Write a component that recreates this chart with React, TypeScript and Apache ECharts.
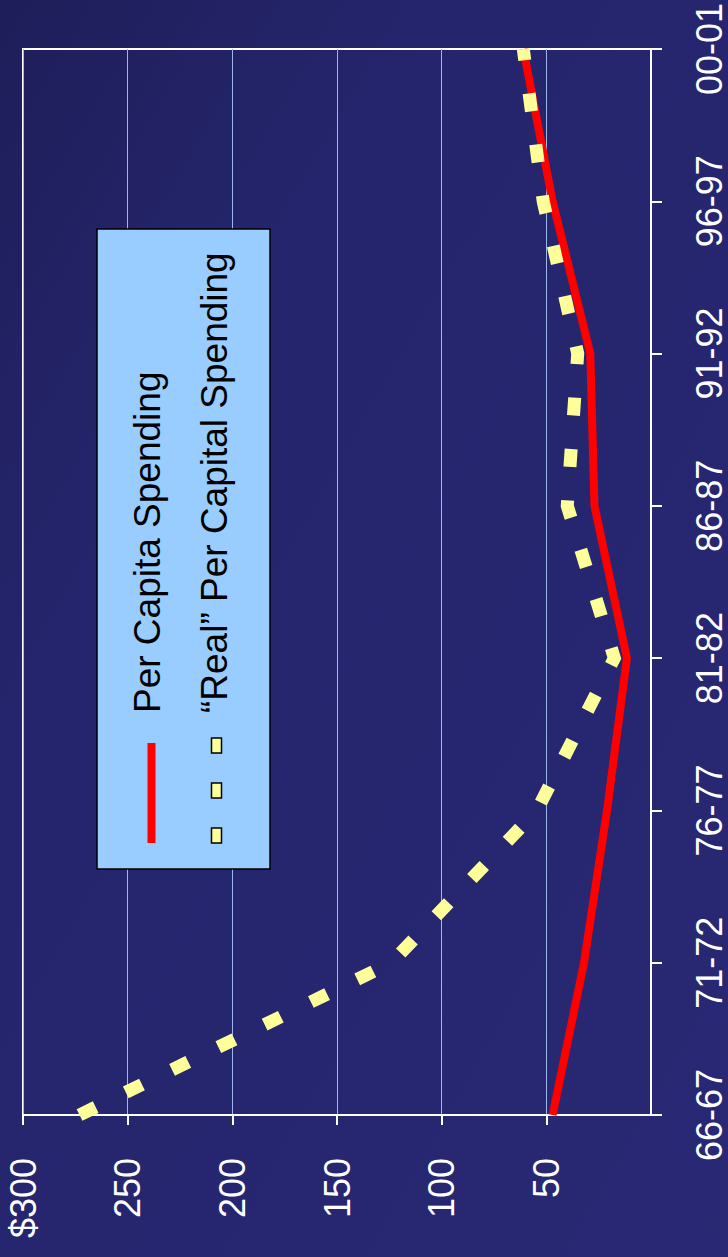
import { useEffect, useRef } from 'react';
import * as echarts from 'echarts';

const categories = ['66-67', '71-72', '76-77', '81-82', '86-87', '91-92', '96-97', '00-01'];
const perCapita = [47, 32, 21, 11.5, 27, 29, 47, 61];
const realPerCapita = [273, 124, 54.5, 17.5, 40, 35, 51.5, 61];
const valueTicks = [50, 100, 150, 200, 250, 300];
const valueTickLabels = ['50', '100', '150', '200', '250', '$300'];
const legendNames = ['Per Capita Spending', '\u201CReal\u201D Per Capital Spending'];

const FONT = 'Arial, "Liberation Sans", Helvetica, sans-serif';

export default function App() {
  const ref = useRef<HTMLDivElement>(null);
  useEffect(() => {
    if (!ref.current) return;
    const chart = echarts.init(ref.current, undefined, { renderer: 'svg' });
    const labelFor = (v: number) => {
      const i = valueTicks.indexOf(v);
      return i >= 0 ? valueTickLabels[i] : '';
    };
    chart.setOption({
      animation: false,
      backgroundColor: new echarts.graphic.LinearGradient(0, 0, 1, 1, [
        { offset: 0, color: '#1e1e5a' },
        { offset: 0.3, color: '#25256d' },
        { offset: 1, color: '#282874' },
      ]),
      grid: {
        left: 23,
        right: 77,
        top: 49,
        bottom: 142,
        show: true,
        borderColor: '#ffffff',
        borderWidth: 2,
        backgroundColor: 'transparent',
        outerBoundsMode: 'none',
        containLabel: false,
      },
      xAxis: {
        type: 'value',
        inverse: true,
        min: 0,
        max: 300,
        interval: 50,
        position: 'bottom',
        axisLine: { show: true, lineStyle: { color: '#ffffff', width: 2 } },
        axisTick: {
          show: true,
          length: 10,
          lineStyle: { color: '#ffffff', width: 2 },
          customValues: valueTicks,
        },
        axisLabel: {
          rotate: 90,
          margin: 43,
          color: '#ffffff',
          fontSize: 36,
          fontFamily: FONT,
          customValues: valueTicks,
          formatter: (v: number) => labelFor(v),
        },
        splitLine: { show: true, lineStyle: { color: '#9ab8ee', width: 1 } },
      },
      yAxis: {
        type: 'category',
        data: categories,
        position: 'right',
        boundaryGap: false,
        axisLine: { show: true, lineStyle: { color: '#ffffff', width: 2 } },
        axisTick: { show: true, length: 11, lineStyle: { color: '#ffffff', width: 2 } },
        axisLabel: {
          rotate: 90,
          margin: 40,
          color: '#ffffff',
          fontSize: 36,
          fontFamily: FONT,
          interval: 0,
        },
        splitLine: { show: false },
      },
      series: [
        {
          name: legendNames[0],
          type: 'line',
          data: perCapita,
          symbol: 'none',
          lineStyle: { color: '#ff0000', width: 8, cap: 'butt', join: 'miter' },
          z: 2,
        },
        {
          name: legendNames[1],
          type: 'line',
          data: realPerCapita,
          symbol: 'none',
          lineStyle: { color: '#ffff99', width: 13, type: [18, 33.5], cap: 'butt', join: 'miter' },
          z: 3,
        },
      ],
      graphic: [
        {
          type: 'rect',
          shape: { x: 97, y: 229, width: 173, height: 640 },
          style: { fill: '#99ccff', stroke: '#000000', lineWidth: 1.5 },
          z: 10,
        },
        {
          type: 'text',
          x: 147.5,
          y: 713,
          rotation: Math.PI / 2,
          style: {
            text: legendNames[0],
            fill: '#000000',
            fontSize: 37,
            fontFamily: FONT,
            textAlign: 'left',
            textVerticalAlign: 'middle',
            verticalAlign: 'middle',
          },
          z: 11,
        },
        {
          type: 'text',
          x: 214.5,
          y: 713,
          rotation: Math.PI / 2,
          style: {
            text: legendNames[1],
            fill: '#000000',
            fontSize: 37,
            fontFamily: FONT,
            textAlign: 'left',
            textVerticalAlign: 'middle',
            verticalAlign: 'middle',
          },
          z: 11,
        },
        {
          type: 'line',
          shape: { x1: 151.5, y1: 743, x2: 151.5, y2: 843 },
          style: { stroke: '#ff0000', lineWidth: 8 },
          z: 11,
        },
        {
          type: 'rect',
          shape: { x: 211.5, y: 738, width: 10, height: 15 },
          style: { fill: '#ffff99', stroke: '#000000', lineWidth: 1.5 },
          z: 11,
        },
        {
          type: 'rect',
          shape: { x: 211.5, y: 783, width: 10, height: 15 },
          style: { fill: '#ffff99', stroke: '#000000', lineWidth: 1.5 },
          z: 11,
        },
        {
          type: 'rect',
          shape: { x: 211.5, y: 828, width: 10, height: 15 },
          style: { fill: '#ffff99', stroke: '#000000', lineWidth: 1.5 },
          z: 11,
        },
      ],
    });
    return () => chart.dispose();
  }, []);
  return (
    <div
      ref={ref}
      style={{ position: 'fixed', left: 0, top: 0, width: 728, height: 1257 }}
    />
  );
}
